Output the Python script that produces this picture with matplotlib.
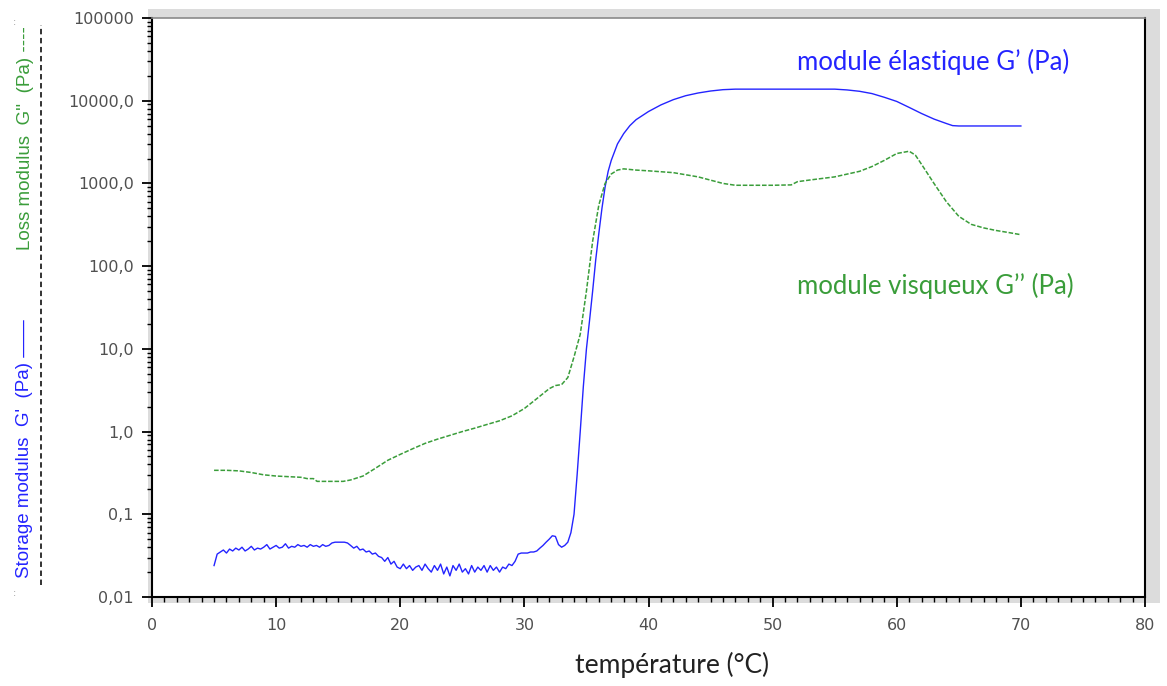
"""Rheology temperature sweep: G' and G'' versus temperature."""

import matplotlib
matplotlib.use("Agg")
import matplotlib.pyplot as plt
from matplotlib.patches import Rectangle
from matplotlib.ticker import FixedLocator, FixedFormatter, MultipleLocator, LogLocator, NullFormatter

# storage modulus G' (Pa)
temp_g1 = [5.0, 5.25, 5.5, 5.75, 6.0, 6.25, 6.5, 6.75, 7.0, 7.25, 7.5, 7.75,
           8.0, 8.25, 8.5, 8.75, 9.0, 9.25, 9.5, 9.75, 10.0, 10.25, 10.5, 10.75,
           11.0, 11.25, 11.5, 11.75, 12.0, 12.25, 12.5, 12.75, 13.0, 13.25, 13.5, 13.75,
           14.0, 14.25, 14.5, 14.75, 15.0, 15.25, 15.5, 15.75, 16.0, 16.25, 16.5, 16.75,
           17.0, 17.25, 17.5, 17.75, 18.0, 18.25, 18.5, 18.75, 19.0, 19.25, 19.5, 19.75,
           20.0, 20.25, 20.5, 20.75, 21.0, 21.25, 21.5, 21.75, 22.0, 22.25, 22.5, 22.75,
           23.0, 23.25, 23.5, 23.75, 24.0, 24.25, 24.5, 24.75, 25.0, 25.25, 25.5, 25.75,
           26.0, 26.25, 26.5, 26.75, 27.0, 27.25, 27.5, 27.75, 28.0, 28.25, 28.5, 28.75,
           29.0, 29.25, 29.5, 29.75, 30.0, 30.25, 30.5, 30.75, 31.0, 31.25, 31.5, 31.75,
           32.0, 32.25, 32.5, 32.75, 33.0, 33.25, 33.5, 33.75, 34.0, 34.25, 34.5, 34.75,
           35.0, 35.25, 35.5, 35.75, 36.0, 36.25, 36.5, 36.75, 37.0, 37.5, 38.0, 38.5,
           39.0, 40.0, 41.0, 42.0, 43.0, 44.0, 45.0, 46.0, 47.0, 50.0, 55.0, 56.0,
           57.0, 58.0, 59.0, 60.0, 61.0, 62.0, 63.0, 64.0, 64.5, 65.0, 70.0]
g_storage = [0.024, 0.033, 0.035, 0.037, 0.034, 0.038, 0.036, 0.039, 0.037, 0.040, 0.036, 0.038,
             0.041, 0.037, 0.039, 0.038, 0.040, 0.043, 0.038, 0.040, 0.042, 0.039, 0.040, 0.044,
             0.039, 0.041, 0.040, 0.043, 0.041, 0.042, 0.040, 0.043, 0.041, 0.042, 0.040, 0.043,
             0.041, 0.042, 0.045, 0.046, 0.046, 0.046, 0.046, 0.045, 0.042, 0.039, 0.041, 0.037,
             0.038, 0.035, 0.036, 0.033, 0.034, 0.031, 0.030, 0.027, 0.030, 0.025, 0.027, 0.023,
             0.022, 0.025, 0.022, 0.024, 0.021, 0.023, 0.024, 0.021, 0.025, 0.022, 0.020, 0.024,
             0.021, 0.025, 0.019, 0.023, 0.018, 0.024, 0.021, 0.025, 0.020, 0.022, 0.019, 0.024,
             0.020, 0.023, 0.021, 0.024, 0.020, 0.024, 0.021, 0.023, 0.020, 0.023, 0.022, 0.025,
             0.024, 0.027, 0.033, 0.034, 0.034, 0.034, 0.035, 0.035, 0.036, 0.039, 0.042, 0.046,
             0.050, 0.055, 0.054, 0.043, 0.040, 0.042, 0.046, 0.06, 0.10, 0.30, 1.0, 3.5,
             10.0, 22.0, 50.0, 120.0, 250.0, 500.0, 900.0, 1400.0, 1900.0, 3000.0, 4000.0, 5000.0,
             5900.0, 7400.0, 8900.0, 10300.0, 11500.0, 12400.0, 13100.0, 13600.0, 13800.0, 13800.0, 13800.0, 13500.0,
             13000.0, 12200.0, 11000.0, 9800.0, 8300.0, 7000.0, 6000.0, 5300.0, 5000.0, 4950.0, 4950.0]

# loss modulus G'' (Pa)
temp_g2 = [5.0, 6.0, 7.0, 8.0, 9.0, 10.0, 11.0, 12.0, 12.5, 13.0, 13.3, 15.4,
           16.0, 17.0, 18.0, 19.0, 20.0, 21.0, 22.0, 23.0, 24.0, 25.0, 26.0, 27.0,
           28.0, 29.0, 30.0, 31.0, 32.0, 32.5, 33.0, 33.5, 34.0, 34.5, 35.0, 35.5,
           36.0, 36.5, 37.0, 37.5, 38.0, 39.0, 40.0, 42.0, 44.0, 46.0, 47.0, 50.0,
           51.5, 52.0, 53.0, 55.0, 57.0, 58.0, 59.0, 60.0, 61.0, 61.5, 62.0, 63.0,
           64.0, 65.0, 66.0, 67.0, 68.0, 69.0, 70.0]
g_loss = [0.34, 0.34, 0.335, 0.32, 0.30, 0.29, 0.285, 0.28, 0.27, 0.27, 0.25, 0.25,
          0.26, 0.29, 0.36, 0.45, 0.53, 0.62, 0.72, 0.81, 0.90, 1.0, 1.1, 1.22,
          1.35, 1.55, 1.9, 2.5, 3.3, 3.6, 3.7, 4.5, 8.0, 15.0, 50.0, 200.0,
          550.0, 1000.0, 1300.0, 1450.0, 1500.0, 1450.0, 1420.0, 1350.0, 1200.0, 1000.0, 950.0, 950.0,
          960.0, 1050.0, 1100.0, 1200.0, 1400.0, 1600.0, 1900.0, 2300.0, 2450.0, 2200.0, 1700.0, 1000.0,
          600.0, 400.0, 320.0, 290.0, 270.0, 255.0, 240.0]

y_ticks = [0.01, 0.1, 1, 10, 100, 1000, 10000, 100000]
y_tick_labels = ["0,01", "0,1", "1,0", "10,0", "100,0", "1000,0", "10000,0", "100000"]
x_ticks = [0, 10, 20, 30, 40, 50, 60, 70, 80]

BLUE = "#2424ff"
GREEN = "#3a9d3a"
W, H = 1167, 686

fig = plt.figure(figsize=(W / 100, H / 100), dpi=100)
fig.patch.set_facecolor("white")

# soft frame shadow behind the plot area
fig.patches.append(Rectangle((148 / W, 1 - 603 / H), (1160 - 148) / W, (603 - 9) / H,
                             transform=fig.transFigure, facecolor="#dcdcdc",
                             edgecolor="none", zorder=-1))

ax = fig.add_axes([152 / W, 1 - 597 / H, (1145 - 152) / W, (597 - 18) / H])
ax.set_facecolor("white")

ax.plot(temp_g1, g_storage, color=BLUE, linewidth=1.0)
ax.plot(temp_g2, g_loss, color=GREEN, linewidth=1.1, linestyle=(0, (3, 1.2)))

ax.set_yscale("log")
ax.set_xlim(0, 80)
ax.set_ylim(0.01, 100000)

ax.yaxis.set_major_locator(FixedLocator(y_ticks))
ax.yaxis.set_major_formatter(FixedFormatter(y_tick_labels))
ax.yaxis.set_minor_locator(LogLocator(base=10, subs=range(2, 10), numticks=20))
ax.yaxis.set_minor_formatter(NullFormatter())
ax.xaxis.set_major_locator(FixedLocator(x_ticks))
ax.xaxis.set_minor_locator(MultipleLocator(1))

ax.tick_params(axis="both", which="major", direction="out", length=7, width=1.3,
               labelsize=11.5, labelcolor="#505050", color="black")
ax.tick_params(axis="both", which="minor", direction="out", length=3.5, width=1.0, color="black")
ax.tick_params(axis="x", pad=8)
ax.tick_params(axis="y", pad=6)

for side in ["left", "bottom", "right"]:
    ax.spines[side].set_linewidth(1.5)
    ax.spines[side].set_color("black")
ax.spines["top"].set_linewidth(1.2)
ax.spines["top"].set_color("#8a8a8a")

# curve annotations
ax.text(52.0, 29500, "module élastique G’ (Pa)", color=BLUE, fontsize=18.5,
        family="Lato", ha="left", va="center")
ax.text(52.0, 58, "module visqueux G’’ (Pa)", color=GREEN, fontsize=18.5,
        family="Lato", ha="left", va="center")

fig.text(672 / W, 1 - 665 / H, "température (°C)", fontsize=19, family="Lato",
         ha="center", va="center", color="#222222")

# instrument-style left axis legend
fig.text(25 / W, 1 - 578 / H, "Storage modulus  G'  (Pa) ——", rotation=90,
         color=BLUE, fontsize=13.5, family="Liberation Sans", ha="center", va="bottom")
fig.text(26 / W, 1 - 250 / H, "Loss modulus  G''  (Pa) ----", rotation=90,
         color=GREEN, fontsize=13.5, family="Liberation Sans", ha="center", va="bottom")
fig.lines.append(plt.Line2D([41 / W, 41 / W], [1 - 585 / H, 1 - 25 / H],
                            transform=fig.transFigure, color="#222222",
                            linewidth=1.3, linestyle=(0, (3, 2))))
fig.text(15 / W, 1 - 22 / H, ":", color="#999999", fontsize=7, ha="center", va="center")
fig.text(15 / W, 1 - 593 / H, ":", color="#999999", fontsize=7, ha="center", va="center")

fig.savefig("out.png", dpi=100)
